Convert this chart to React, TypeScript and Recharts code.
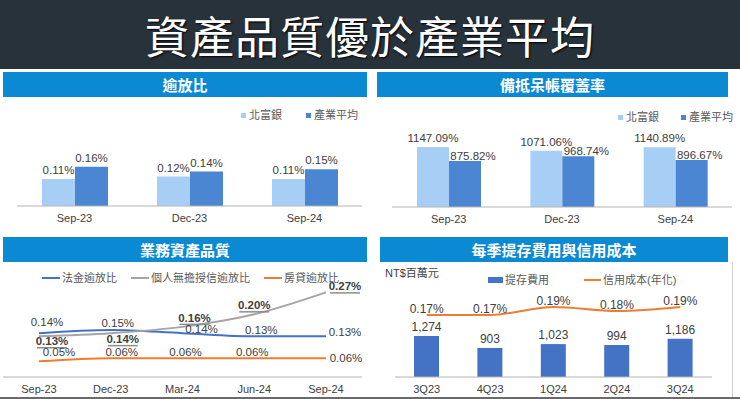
import React from 'react';
import { BarChart, Bar, XAxis, YAxis, LabelList, Legend, LineChart, Line, ComposedChart } from 'recharts';

const FONT = "'Liberation Sans', Arial, 'Noto Sans CJK TC', sans-serif";
const CJK = "'Liberation Sans', 'Noto Sans CJK TC', sans-serif";

// 逾放比
const nplCategories = ['Sep-23', 'Dec-23', 'Sep-24'];
const nplBank = [0.11, 0.12, 0.11];
const nplIndustry = [0.16, 0.14, 0.15];

// 備抵呆帳覆蓋率
const coverageCategories = ['Sep-23', 'Dec-23', 'Sep-24'];
const coverageBank = [1147.09, 1071.06, 1140.89];
const coverageIndustry = [875.82, 968.74, 896.67];

// 業務資產品質
const qualityCategories = ['Sep-23', 'Dec-23', 'Mar-24', 'Jun-24', 'Sep-24'];
const corporateNpl = [0.14, 0.15, 0.14, 0.13, 0.13];
const unsecuredNpl = [0.13, 0.14, 0.16, 0.2, 0.27];
const mortgageNpl = [0.05, 0.06, 0.06, 0.06, 0.06];

// 每季提存費用與信用成本
const quarterCategories = ['3Q23', '4Q23', '1Q24', '2Q24', '3Q24'];
const provisionExpense = [1274, 903, 1023, 994, 1186];
const creditCost = [0.17, 0.17, 0.19, 0.18, 0.19];

const nplData = nplCategories.map((c, i) => ({ category: c, bank: nplBank[i], industry: nplIndustry[i] }));
const coverageData = coverageCategories.map((c, i) => ({ category: c, bank: coverageBank[i], industry: coverageIndustry[i] }));
const qualityData = qualityCategories.map((c, i) => ({ category: c, corp: corporateNpl[i], unsecured: unsecuredNpl[i], mortgage: mortgageNpl[i] }));
const quarterData = quarterCategories.map((c, i) => ({ category: c, expense: provisionExpense[i], cost: creditCost[i] }));

const LIGHT = '#a7cef5';
const DARK = '#4a86d2';
const BLUE = '#4472c4';
const GRAY = '#a5a5a5';
const ORANGE = '#ed7d31';
const HEADER = '#0b8ad3';
const AXIS = '#b4b4b4';
const TEXT = '#404040';

const pct = (v: any) => `${Number(v).toFixed(2)}%`;
const thousands = (v: any) => Number(v).toLocaleString('en-US');

// label offsets (text centre relative to point) for the line chart
const corpOffsets = [[8, -11], [7, -7], [19, -4], [7, -6], [19, -4]];
const unsecuredOffsets = [[13, 5], [12, 6], [12, -9], [0, -9], [19, -6]];
const mortgageOffsets = [[20, -9], [11, -6], [3, -6], [-2, -6], [20, 0]];

const makeLineLabel = (offsets: number[][], underline: boolean) => (props: any) => {
  const { x, y, value, index } = props;
  const [dx, dy] = offsets[index] || [0, -8];
  const cx = x + dx;
  const cy = y + dy;
  return (
    <g>
      <text x={cx} y={cy} textAnchor="middle" dominantBaseline="central" fill={TEXT} fontSize={11.5}
        fontFamily={FONT} fontWeight={underline ? 700 : 400}>{pct(value)}</text>
      {underline && <line x1={cx - 15} x2={cx + 15} y1={cy + 6.5} y2={cy + 6.5} stroke="#8c8c8c" strokeWidth={1.5} />}
    </g>
  );
};

const ordered = (payload: any[], order: string[]) =>
  [...(payload || [])].sort((a, b) => order.indexOf(a.dataKey) - order.indexOf(b.dataKey));

const SquareLegend = (gap: number) => (props: any) => {
  const items = ordered(props.payload, ['bank', 'industry']);
  return (
    <div style={{ display: 'flex', alignItems: 'center', fontSize: 11, color: '#595959', fontFamily: CJK, lineHeight: '14px', whiteSpace: 'nowrap' }}>
      {items.map((e: any, i: number) => (
        <span key={i} style={{ display: 'flex', alignItems: 'center', marginRight: i === 0 ? gap : 0 }}>
          <span style={{ width: 5, height: 5, background: e.color, marginRight: 3, display: 'inline-block' }} />
          <span>{e.value}</span>
        </span>
      ))}
    </div>
  );
};

const LineLegend = (props: any) => {
  const items = ordered(props.payload, ['corp', 'unsecured', 'mortgage']);
  return (
    <div style={{ display: 'flex', alignItems: 'center', fontSize: 11, color: '#595959', fontFamily: CJK, lineHeight: '14px', whiteSpace: 'nowrap' }}>
      {items.map((e: any, i: number) => (
        <span key={i} style={{ display: 'flex', alignItems: 'center', marginRight: 14 }}>
          <span style={{ width: 18, height: 2, background: e.color, marginRight: 2, display: 'inline-block' }} />
          <span>{e.value}</span>
        </span>
      ))}
    </div>
  );
};

const ComboLegend = (props: any) => {
  const items = ordered(props.payload, ['expense', 'cost']);
  return (
    <div style={{ display: 'flex', alignItems: 'center', fontSize: 11, color: '#595959', fontFamily: CJK, lineHeight: '14px', whiteSpace: 'nowrap' }}>
      {items.map((e: any, i: number) => (
        <span key={i} style={{ display: 'flex', alignItems: 'center', marginRight: 35 }}>
          {e.dataKey === 'cost'
            ? <span style={{ width: 17, height: 2, background: e.color, marginRight: 2, display: 'inline-block' }} />
            : <span style={{ width: 15, height: 6, background: e.color, marginRight: 2, display: 'inline-block' }} />}
          <span>{e.value}</span>
        </span>
      ))}
    </div>
  );
};

const headerStyle = (left: number, top: number, width: number): React.CSSProperties => ({
  position: 'absolute', left, top, width, height: 25, background: HEADER, color: '#fff',
  fontFamily: "'Noto Sans CJK TC', sans-serif", fontWeight: 700, fontSize: 15,
  display: 'flex', alignItems: 'center', justifyContent: 'center',
});

const tickStyle = { fill: TEXT, fontSize: 11, fontFamily: FONT };

export default function App() {
  return (
    <div style={{ position: 'fixed', left: 0, top: 0, width: 740, height: 399, background: '#fff', overflow: 'hidden' }}>
      <div style={{
        position: 'absolute', left: 0, top: 0, width: 740, height: 69, background: '#27323b', color: '#fff',
        display: 'flex', alignItems: 'center', justifyContent: 'center', fontSize: 44,
        fontFamily: "'Noto Sans CJK TC', serif", letterSpacing: 1, textShadow: '1px 1px 2px #000',
      }}>資產品質優於產業平均</div>

      <div style={headerStyle(3, 72, 364)}>逾放比</div>
      <div style={headerStyle(377, 72, 351)}>備抵呆帳覆蓋率</div>
      <div style={headerStyle(3, 237, 364)}>業務資產品質</div>
      <div style={headerStyle(380, 237, 348)}>每季提存費用與信用成本</div>

      <div style={{ position: 'absolute', left: 0, top: 97 }}>
        <BarChart width={370} height={135} data={nplData} margin={{ top: 23, right: 8, left: 17, bottom: 4 }} barGap={0}>
          <XAxis dataKey="category" height={22} tickLine={false} axisLine={{ stroke: AXIS }} tick={tickStyle} />
          <YAxis hide domain={[0, 0.35]} />
          <Legend layout="horizontal" verticalAlign="middle" align="center" content={SquareLegend(24)}
            wrapperStyle={{ top: 11, left: 241, width: 'auto' }} />
          <Bar dataKey="bank" name="北富銀" fill={LIGHT} barSize={33} isAnimationActive={false}>
            <LabelList dataKey="bank" position="top" formatter={pct} fill={TEXT} fontSize={11.5} fontFamily={FONT} />
          </Bar>
          <Bar dataKey="industry" name="產業平均" fill={DARK} barSize={33} isAnimationActive={false}>
            <LabelList dataKey="industry" position="top" formatter={pct} fill={TEXT} fontSize={11.5} fontFamily={FONT} />
          </Bar>
        </BarChart>
      </div>

      <div style={{ position: 'absolute', left: 370, top: 97 }}>
        <BarChart width={370} height={135} data={coverageData} margin={{ top: 23, right: 8, left: 22, bottom: 3 }} barGap={0}>
          <XAxis dataKey="category" height={22} tickLine={false} axisLine={{ stroke: AXIS }} tick={tickStyle} />
          <YAxis hide domain={[0, 1660]} />
          <Legend layout="horizontal" verticalAlign="middle" align="center" content={SquareLegend(22)}
            wrapperStyle={{ top: 13, left: 248, width: 'auto' }} />
          <Bar dataKey="bank" name="北富銀" fill={LIGHT} barSize={32} isAnimationActive={false}>
            <LabelList dataKey="bank" position="top" formatter={pct} fill={TEXT} fontSize={11.5} fontFamily={FONT} />
          </Bar>
          <Bar dataKey="industry" name="產業平均" fill={DARK} barSize={32} isAnimationActive={false}>
            <LabelList dataKey="industry" position="top" offset={1} dx={8} formatter={pct} fill={TEXT} fontSize={11.5} fontFamily={FONT} />
          </Bar>
        </BarChart>
      </div>

      <div style={{ position: 'absolute', left: 0, top: 262 }}>
        <LineChart width={370} height={137} data={qualityData} margin={{ top: 21, right: 8, left: 3, bottom: 0 }}>
          <XAxis dataKey="category" height={22} tickLine={false} axisLine={{ stroke: AXIS }} tick={tickStyle}
            padding={{ left: 36, right: 36 }} />
          <YAxis hide domain={[0, 0.3]} />
          <Legend layout="horizontal" verticalAlign="middle" align="center" content={LineLegend}
            wrapperStyle={{ top: 9, left: 42, width: 'auto' }} />
          <Line type="monotone" dataKey="corp" name="法金逾放比" stroke={BLUE} strokeWidth={2} dot={false} isAnimationActive={false}>
            <LabelList dataKey="corp" content={makeLineLabel(corpOffsets, false)} />
          </Line>
          <Line type="monotone" dataKey="unsecured" name="個人無擔授信逾放比" stroke={GRAY} strokeWidth={2} dot={false} isAnimationActive={false}>
            <LabelList dataKey="unsecured" content={makeLineLabel(unsecuredOffsets, true)} />
          </Line>
          <Line type="monotone" dataKey="mortgage" name="房貸逾放比" stroke={ORANGE} strokeWidth={2} dot={false} isAnimationActive={false}>
            <LabelList dataKey="mortgage" content={makeLineLabel(mortgageOffsets, false)} />
          </Line>
        </LineChart>
      </div>

      <div style={{ position: 'absolute', left: 385, top: 266, fontSize: 11, color: TEXT, fontFamily: CJK, lineHeight: '14px' }}>NT$百萬元</div>

      <div style={{ position: 'absolute', left: 370, top: 262 }}>
        <ComposedChart width={370} height={137} data={quarterData} margin={{ top: 23, right: 28, left: 25, bottom: 0 }}>
          <XAxis dataKey="category" height={22} tickLine={false} axisLine={{ stroke: AXIS }} tick={tickStyle} />
          <YAxis yAxisId="left" hide domain={[0, 2860]} />
          <YAxis yAxisId="right" orientation="right" hide domain={[0.015, 0.245]} />
          <Legend layout="horizontal" verticalAlign="middle" align="center" content={ComboLegend}
            wrapperStyle={{ top: 11, left: 118, width: 'auto' }} />
          <Bar yAxisId="left" dataKey="expense" name="提存費用" fill={BLUE} barSize={25} isAnimationActive={false}>
            <LabelList dataKey="expense" position="top" formatter={thousands} fill={TEXT} fontSize={12} fontFamily={FONT} />
          </Bar>
          <Line yAxisId="right" type="monotone" dataKey="cost" name="信用成本(年化)" stroke={ORANGE} strokeWidth={2} dot={false} isAnimationActive={false}>
            <LabelList dataKey="cost" position="top" offset={2} formatter={pct} fill={TEXT} fontSize={12} fontFamily={FONT} />
          </Line>
        </ComposedChart>
      </div>

      <div style={{ position: 'absolute', left: 732, top: 262, width: 1, height: 136, background: '#d0d0d0' }} />
      <div style={{ position: 'absolute', left: 0, top: 397, width: 740, height: 2, background: '#6a6a6a' }} />
    </div>
  );
}
